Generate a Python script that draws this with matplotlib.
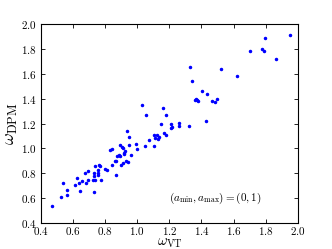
import matplotlib
matplotlib.use("Agg")
import matplotlib.pyplot as plt
from matplotlib.ticker import FuncFormatter

plt.rcParams['mathtext.fontset'] = 'cm'
plt.rcParams['font.family'] = 'serif'
plt.rcParams['font.serif'] = ['DejaVu Serif']

# omega values (VT on x, DPM on y)
omega_vt = [0.466, 0.525, 0.537, 0.560, 0.562, 0.614, 0.624, 0.637, 0.645, 0.656,
            0.674, 0.681, 0.691, 0.693, 0.726, 0.728, 0.732, 0.735, 0.732, 0.739,
            0.753, 0.753, 0.757, 0.762, 0.768, 0.772, 0.801, 0.811, 0.832, 0.845,
            0.843, 0.859, 0.868, 0.868, 0.876, 0.884, 0.890, 0.892, 0.897, 0.903,
            0.909, 0.913, 0.917, 0.917, 0.926, 0.930, 0.934, 0.940, 0.946, 0.951,
            0.961, 0.994, 1.001, 1.032, 1.046, 1.055, 1.071, 1.102, 1.104, 1.109,
            1.121, 1.129, 1.134, 1.150, 1.158, 1.167, 1.177, 1.179, 1.212, 1.212,
            1.215, 1.262, 1.262, 1.325, 1.329, 1.339, 1.358, 1.364, 1.373, 1.377,
            1.404, 1.426, 1.433, 1.468, 1.485, 1.497, 1.524, 1.622, 1.701, 1.778,
            1.790, 1.794, 1.865, 1.950]
omega_dpm = [0.536, 0.608, 0.726, 0.627, 0.667, 0.707, 0.766, 0.723, 0.654, 0.742,
             0.806, 0.726, 0.819, 0.745, 0.745, 0.806, 0.779, 0.857, 0.651, 0.750,
             0.827, 0.801, 0.785, 0.868, 0.862, 0.747, 0.838, 0.827, 0.988, 0.993,
             0.865, 0.902, 0.902, 0.785, 0.940, 0.945, 0.940, 1.025, 0.870, 1.014,
             0.886, 1.001, 0.956, 0.966, 0.977, 0.902, 1.140, 0.892, 1.089, 1.025,
             0.950, 1.038, 0.998, 1.351, 1.020, 1.268, 1.068, 1.020, 1.105, 1.084,
             1.105, 1.073, 1.092, 1.199, 1.324, 1.127, 1.268, 1.108, 1.201, 1.164,
             1.177, 1.204, 1.185, 1.185, 1.658, 1.543, 1.394, 1.396, 1.388, 1.380,
             1.463, 1.223, 1.442, 1.380, 1.372, 1.396, 1.642, 1.581, 1.786, 1.802,
             1.786, 1.890, 1.720, 1.912]

ticks = [0.4, 0.6, 0.8, 1.0, 1.2, 1.4, 1.6, 1.8, 2.0]

fig = plt.figure(figsize=(3.32, 2.49), dpi=100)
ax = fig.add_axes([41 / 332, 1 - 223 / 249, (297.7 - 41) / 332, (223 - 24.3) / 249])

ax.plot(omega_vt, omega_dpm, '.', color='b', markersize=3)

ax.set_xlim(0.4, 2.0)
ax.set_ylim(0.4, 2.0)
ax.set_xticks(ticks)
ax.set_yticks(ticks)
fmt = FuncFormatter(lambda v, p: r'$%.1f$' % v)
ax.xaxis.set_major_formatter(fmt)
ax.yaxis.set_major_formatter(fmt)
ax.tick_params(direction='in', top=True, right=True, length=3, width=0.6,
               labelsize=8)
ax.tick_params(axis='x', pad=1.5)
ax.tick_params(axis='y', pad=3)
for s in ax.spines.values():
    s.set_linewidth(0.8)

ax.set_xlabel(r'$\omega_{\rm VT}$', fontsize=10.5, labelpad=-1)
ax.set_ylabel(r'$\omega_{\rm DPM}$', fontsize=13, labelpad=1)

ax.text(1.485, 0.598, r'$(a_{\min}, a_{\max}) = (0,1)$', fontsize=8,
        ha='center', va='center')

fig.savefig('out.png', dpi=100)
